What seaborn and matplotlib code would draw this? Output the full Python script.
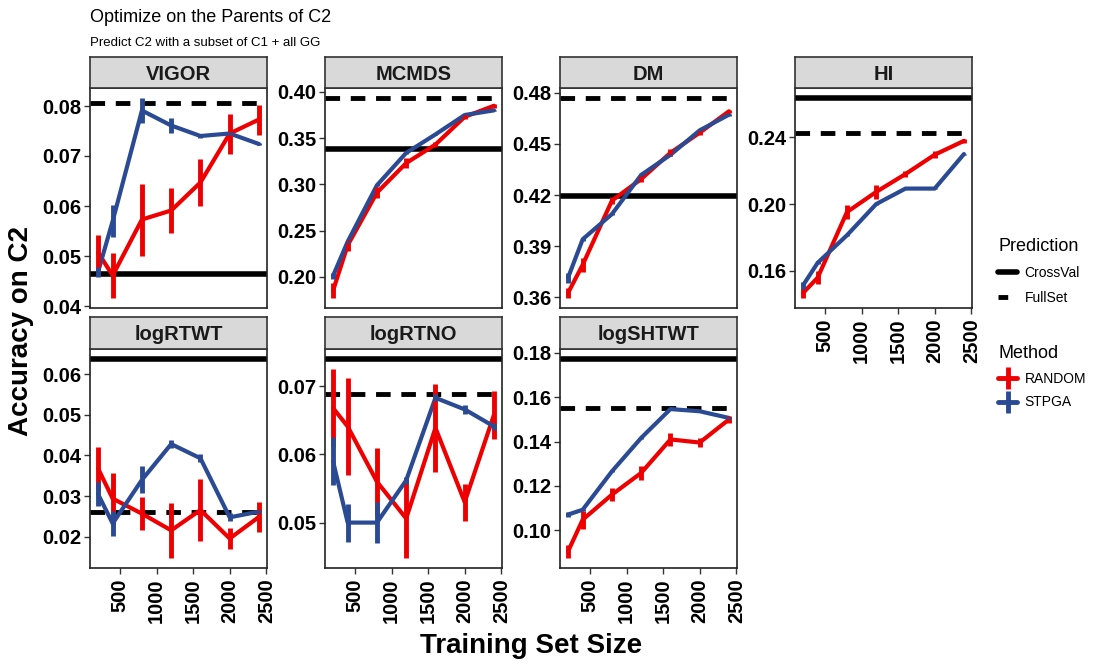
import matplotlib
matplotlib.use('Agg')
import matplotlib.pyplot as plt
import seaborn as sns
import pandas as pd
import numpy as np
from matplotlib.lines import Line2D

sns.set_style('white')
plt.rcParams['font.family'] = ['Liberation Sans', 'DejaVu Sans']
plt.rcParams['text.color'] = 'black'

#--- data
traits = ['VIGOR', 'MCMDS', 'DM', 'HI', 'logRTWT', 'logRTNO', 'logSHTWT']
sizes = [200, 400, 800, 1200, 1600, 2000, 2400]

random_mean = [
    [0.0507, 0.0461, 0.0573, 0.0591, 0.0647, 0.0745, 0.0773],
    [0.185, 0.234, 0.291, 0.323, 0.343, 0.373, 0.385],
    [0.3625, 0.379, 0.4167, 0.4294, 0.4448, 0.4566, 0.4692],
    [0.1467, 0.1559, 0.1952, 0.2073, 0.218, 0.2296, 0.2379],
    [0.0368, 0.0294, 0.0257, 0.0216, 0.0266, 0.0196, 0.0249],
    [0.0668, 0.0641, 0.056, 0.0506, 0.0639, 0.053, 0.0658],
    [0.0905, 0.1048, 0.1161, 0.1259, 0.141, 0.1396, 0.150],
]
random_err = [
    [0.0035, 0.0045, 0.0072, 0.0045, 0.0047, 0.004, 0.003],
    [0.008, 0.006, 0.006, 0.005, 0.003, 0.002, 0.002],
    [0.003, 0.004, 0.002, 0.002, 0.002, 0.0015, 0.001],
    [0.003, 0.004, 0.004, 0.004, 0.002, 0.002, 0.001],
    [0.0053, 0.0064, 0.004, 0.0068, 0.0076, 0.0025, 0.0037],
    [0.0057, 0.0071, 0.005, 0.0058, 0.0065, 0.0027, 0.0035],
    [0.003, 0.004, 0.003, 0.003, 0.003, 0.002, 0.0015],
]
stpga_mean = [
    [0.0468, 0.057, 0.0791, 0.0761, 0.074, 0.0745, 0.0724],
    [0.201, 0.238, 0.299, 0.334, 0.354, 0.375, 0.380],
    [0.3714, 0.394, 0.4088, 0.4318, 0.4436, 0.458, 0.4672],
    [0.1513, 0.1648, 0.1813, 0.200, 0.2093, 0.2093, 0.230],
    [0.0305, 0.0233, 0.034, 0.0428, 0.0393, 0.0248, 0.0262],
    [0.059, 0.050, 0.050, 0.0562, 0.0683, 0.0666, 0.0641],
    [0.1071, 0.1093, 0.1266, 0.1417, 0.1547, 0.1537, 0.1507],
]
stpga_err = [
    [0.001, 0.0032, 0.0025, 0.0015, 0.0003, 0.0003, 0.0003],
    [0.003, 0.001, 0.001, 0.001, 0.0005, 0.0005, 0.0005],
    [0.003, 0.001, 0.0005, 0.0005, 0.0005, 0.0005, 0.0005],
    [0.002, 0.001, 0.0005, 0.0005, 0.0003, 0.0003, 0.0003],
    [0.003, 0.003, 0.0033, 0.001, 0.001, 0.001, 0.0003],
    [0.0035, 0.0028, 0.003, 0.0005, 0.0005, 0.0007, 0.0005],
    [0.001, 0.0005, 0.0005, 0.0003, 0.0003, 0.0003, 0.0003],
]
crossval = [0.0465, 0.3385, 0.4196, 0.2636, 0.0637, 0.074, 0.1773]
fullset = [0.0806, 0.3934, 0.477, 0.2425, 0.026, 0.0689, 0.1552]
yticks = [
    [0.04, 0.05, 0.06, 0.07, 0.08],
    [0.20, 0.25, 0.30, 0.35, 0.40],
    [0.36, 0.39, 0.42, 0.45, 0.48],
    [0.16, 0.20, 0.24],
    [0.02, 0.03, 0.04, 0.05, 0.06],
    [0.05, 0.06, 0.07],
    [0.10, 0.12, 0.14, 0.16, 0.18],
]
xticks = [500, 1000, 1500, 2000, 2500]

RED = '#EE0000'
BLUE = '#2B4A94'
W, H = 1093, 664

fig = plt.figure(figsize=(W / 100, H / 100), dpi=100)

col_left = [90, 325, 560, 795]
panel_w = 177
rows = [(88, 308, 57), (349, 568, 317)]  # panel top, panel bottom, strip top

for i, trait in enumerate(traits):
    r, c = divmod(i, 4)
    ptop, pbot, stop = rows[r]
    x0 = col_left[c]
    ax = fig.add_axes([x0 / W, 1 - pbot / H, panel_w / W, (pbot - ptop) / H])

    df = pd.DataFrame({
        'size': sizes * 2,
        'acc': random_mean[i] + stpga_mean[i],
        'err': random_err[i] + stpga_err[i],
        'Method': ['RANDOM'] * 7 + ['STPGA'] * 7,
    })
    sns.lineplot(data=df, x='size', y='acc', hue='Method',
                 palette={'RANDOM': RED, 'STPGA': BLUE},
                 linewidth=3, legend=False, ax=ax, zorder=3)
    for m, col in [('RANDOM', RED), ('STPGA', BLUE)]:
        d = df[df['Method'] == m]
        ax.vlines(d['size'], d['acc'] - d['err'], d['acc'] + d['err'],
                  color=col, linewidth=3.5, zorder=3)
    ax.axhline(crossval[i], color='black', linewidth=4, zorder=2)
    ax.axhline(fullset[i], color='black', linewidth=3.5, linestyle=(0, (3, 2.2)), zorder=2)

    lo = min((df['acc'] - df['err']).min(), crossval[i], fullset[i])
    hi = max((df['acc'] + df['err']).max(), crossval[i], fullset[i])
    pad = (hi - lo) * 0.05
    ax.set_ylim(lo - pad, hi + pad)
    ax.set_xlim(90, 2510)
    ax.set_yticks(yticks[i])
    ax.set_yticklabels(['%.2f' % t for t in yticks[i]],
                       fontsize=14.5, fontweight='bold', color='black')
    ax.set_xlabel('')
    ax.set_ylabel('')

    show_x = (r == 1) or (c == 3)
    if show_x:
        ax.set_xticks(xticks)
        ax.set_xticklabels([str(t) for t in xticks], rotation=90,
                           fontsize=14.5, fontweight='bold', color='black')
        ax.tick_params(axis='x', length=4, width=1, color='#333333', bottom=True)
    else:
        ax.set_xticks([])
    ax.tick_params(axis='y', length=4, width=1, color='#333333', left=True, pad=2)
    for s in ax.spines.values():
        s.set_color('#222222')
        s.set_linewidth(1.2)

    # facet strip
    sax = fig.add_axes([x0 / W, 1 - ptop / H, panel_w / W, (ptop - stop) / H])
    sax.set_facecolor('#D9D9D9')
    sax.set_xticks([])
    sax.set_yticks([])
    for s in sax.spines.values():
        s.set_color('#333333')
        s.set_linewidth(1.2)
    sax.text(0.5, 0.45, trait, ha='center', va='center', fontsize=14.5,
             fontweight='bold', color='#1A1A1A', transform=sax.transAxes)

fig.text(90 / W, 1 - 18 / H, 'Optimize on the Parents of C2', fontsize=13, va='center')
fig.text(90 / W, 1 - 43 / H, 'Predict C2 with a subset of C1 + all GG', fontsize=9.5, va='center')
fig.text(21 / W, 1 - 331 / H, 'Accuracy on C2', rotation=90, fontsize=20,
         fontweight='bold', ha='center', va='center')
fig.text(531 / W, 1 - 646 / H, 'Training Set Size', fontsize=20,
         fontweight='bold', ha='center', va='center')

pred_handles = [Line2D([0], [0], color='black', lw=4),
                Line2D([0], [0], color='black', lw=3.5, linestyle=(0, (2, 2)))]
fig.legend(pred_handles, ['CrossVal', 'FullSet'], title='Prediction',
           loc='upper left', bbox_to_anchor=(998 / W, 1 - 238 / H),
           frameon=False, fontsize=10, title_fontsize=13, handlelength=1.4,
           handletextpad=0.5, borderpad=0, borderaxespad=0,
           labelspacing=0.8, alignment='left')
meth_handles = [Line2D([0], [0], color=RED, lw=3.5, marker='|', markersize=16, mew=3.5),
                Line2D([0], [0], color=BLUE, lw=3.5, marker='|', markersize=16, mew=3.5)]
fig.legend(meth_handles, ['RANDOM', 'STPGA'], title='Method',
           loc='upper left', bbox_to_anchor=(998 / W, 1 - 345 / H),
           frameon=False, fontsize=10, title_fontsize=13, handlelength=1.4,
           handletextpad=0.5, borderpad=0, borderaxespad=0,
           labelspacing=0.7, alignment='left')

plt.savefig('out.png', dpi=100)
